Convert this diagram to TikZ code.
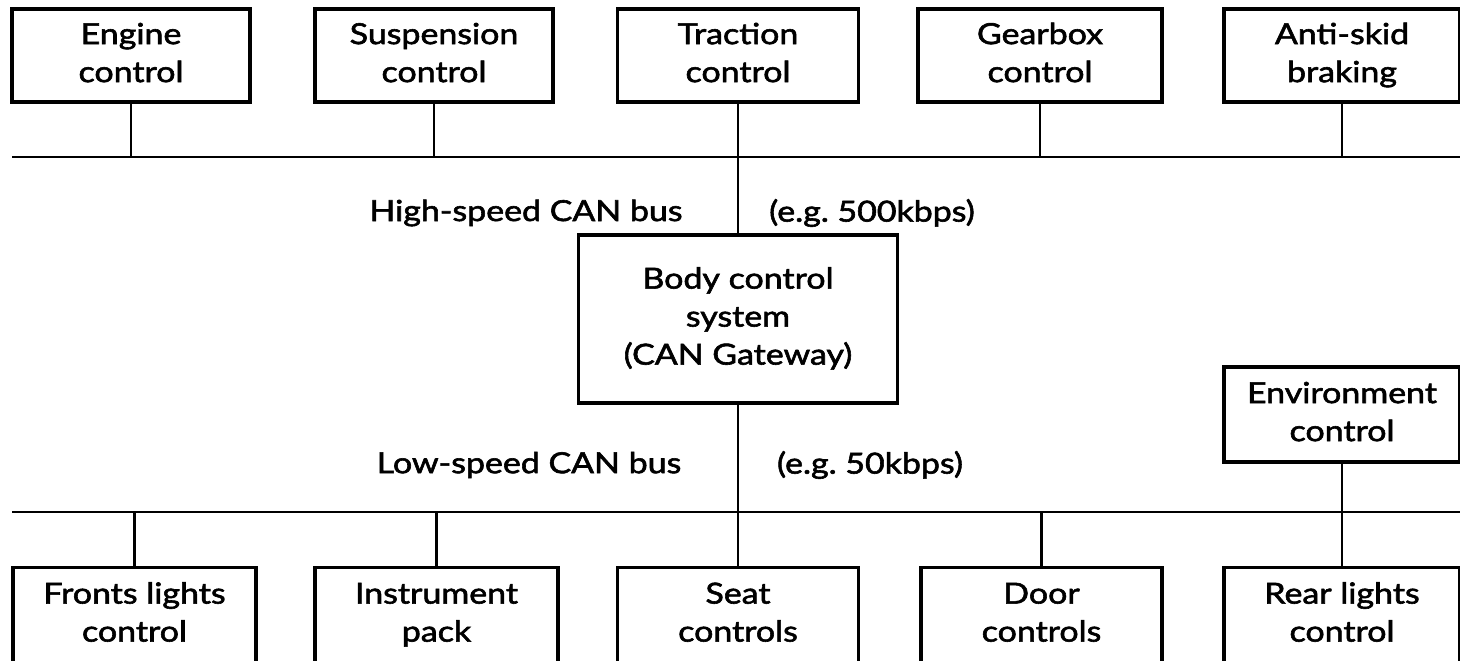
\documentclass[tikz,border=0pt]{standalone}
\usepackage{fontspec}
\setmainfont{Lato}[FakeStretch=1.17, FakeBold=2]
\begin{document}
\begin{tikzpicture}[x=1pt,y=-1pt,
  unit/.style={draw, line width=3.2pt, inner sep=0pt, align=center,
    font=\fontsize{29}{38}\selectfont},
  lbl/.style={inner sep=0pt, font=\fontsize{29}{38}\selectfont},
  wire/.style={line width=2.4pt}]
\useasboundingbox (0,0) rectangle (1460,661);
% top row
\node[unit, minimum width=238pt, minimum height=93pt] (engine) at (131,55.5) {\strut Engine\\\strut control};
\node[unit, minimum width=238pt, minimum height=93pt] (susp) at (434,55.5) {\strut Suspension\\\strut control};
\node[unit, minimum width=241pt, minimum height=93pt] (traction) at (738,55.5) {\strut Traction\\\strut control};
\node[unit, minimum width=244pt, minimum height=93pt] (gear) at (1040,55.5) {\strut Gearbox\\\strut control};
\node[unit, minimum width=236pt, minimum height=93pt] (abs) at (1342,55.5) {\strut Anti-skid\\\strut braking};
% gateway
\node[unit, minimum width=319pt, minimum height=168pt] (body) at (738,319) {\strut Body control\\\strut system\\\strut (CAN Gateway)};
% environment
\node[unit, minimum width=236pt, minimum height=95pt] (env) at (1342,414.5) {\strut Environment\\\strut control};
% bottom row
\node[unit, minimum width=243pt, minimum height=95pt] (front) at (134.5,615) {\strut Fronts lights\\\strut control};
\node[unit, minimum width=243pt, minimum height=95pt] (instr) at (436.5,615) {\strut Instrument\\\strut pack};
\node[unit, minimum width=241pt, minimum height=95pt] (seat) at (738,615) {\strut Seat\\\strut controls};
\node[unit, minimum width=241pt, minimum height=95pt] (door) at (1041.5,615) {\strut Door\\\strut controls};
\node[unit, minimum width=236pt, minimum height=95pt] (rear) at (1342,615) {\strut Rear lights\\\strut control};
% bus labels
\node[lbl] (hs) at (526,213) {High-speed CAN bus};
\node[lbl] (hsr) at (872,213) {(e.g.\ 500kbps)};
\node[lbl] (ls) at (529,465) {Low-speed CAN bus};
\node[lbl] (lsr) at (870,465) {(e.g.\ 50kbps)};
% buses
\coordinate (hbL) at (12,157);
\coordinate (hbR) at (1460,157);
\coordinate (lbL) at (12,512);
\coordinate (lbR) at (1460,512);
\draw[wire] (hbL) -- (hbR);
\draw[wire] (lbL) -- (lbR);
% connectors to high-speed bus
\draw[wire] (engine.south) -- (engine.south |- hbL);
\draw[wire] (susp.south) -- (susp.south |- hbL);
\draw[wire] (gear.south) -- (gear.south |- hbL);
\draw[wire] (abs.south) -- (abs.south |- hbL);
\draw[wire] (traction.south) -- (body.north);
% connectors to low-speed bus
\draw[wire] (body.south) -- (seat.north);
\draw[wire] (front.north) -- (front.north |- lbL);
\draw[wire] (instr.north) -- (instr.north |- lbL);
\draw[wire] (door.north) -- (door.north |- lbL);
\draw[wire] (env.south) -- (rear.north);
\end{tikzpicture}
\end{document}
